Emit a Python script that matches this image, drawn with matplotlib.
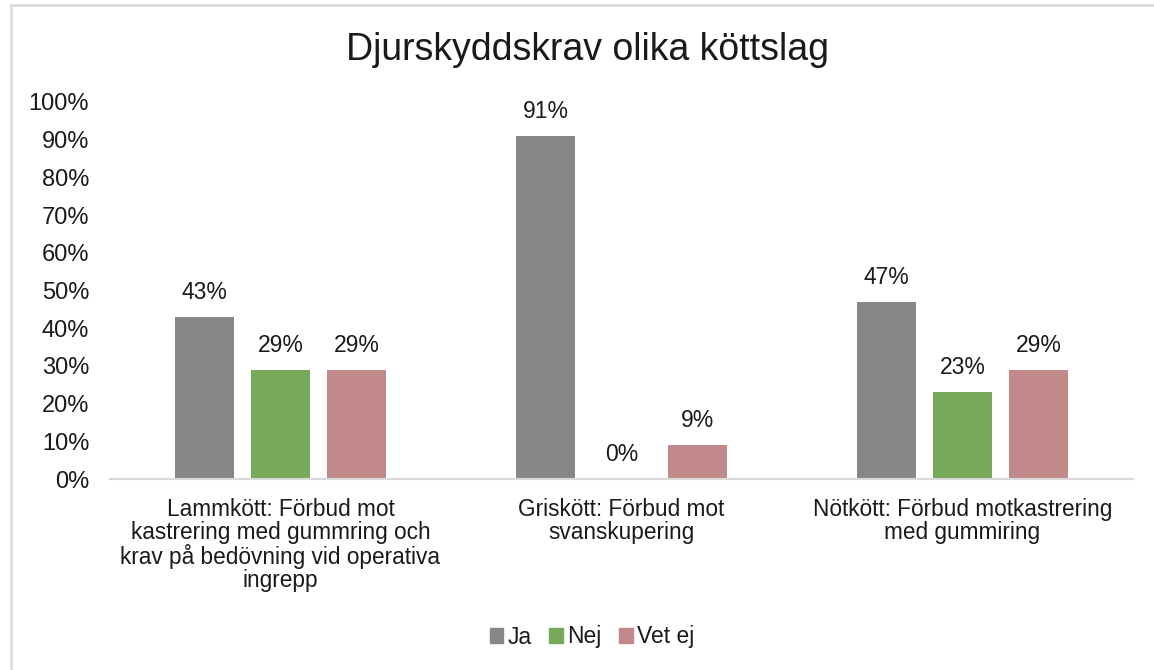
import matplotlib
matplotlib.use("Agg")
import matplotlib.pyplot as plt
import numpy as np
from matplotlib.patches import Patch, Rectangle

# data
categories = [
    "Lammkött: Förbud mot\nkastrering med gummring och\nkrav på bedövning vid operativa\ningrepp",
    "Griskött: Förbud mot\nsvanskupering",
    "Nötkött: Förbud motkastrering\nmed gummiring",
]
series = ["Ja", "Nej", "Vet ej"]
ja = [43, 91, 47]
nej = [29, 0, 23]
vet_ej = [29, 9, 29]
yticks = [0, 10, 20, 30, 40, 50, 60, 70, 80, 90, 100]

colors = ["#878787", "#76A95A", "#C2898A"]
text_col = "#1a1a1a"

plt.rcParams["font.family"] = ["Liberation Sans", "DejaVu Sans"]

fig = plt.figure(figsize=(11.54, 6.70), dpi=100)
ax = fig.add_axes([110 / 1154, 1 - 479 / 670, 1023 / 1154, 377 / 670])

x = np.arange(len(categories))
width = 0.173
step = 0.223
for k, (vals, name, col) in enumerate(zip([ja, nej, vet_ej], series, colors)):
    pos = x + (k - 1) * step
    ax.bar(pos, vals, width, color=col, label=name, zorder=2)
    for p, v in zip(pos, vals):
        ax.text(p, v + 3.4, f"{v}%", ha="center", va="bottom",
                fontsize=16.5, color=text_col)

ax.set_xlim(-0.5, 2.5)
ax.set_ylim(0, 100)
ax.set_yticks(yticks)
ax.set_yticklabels([f"{t}%" for t in yticks], fontsize=17, color=text_col)
ax.set_xticks(x)
ax.set_xticklabels(categories, fontsize=16.3, color=text_col, linespacing=1.0,
                   va="top")
ax.tick_params(axis="both", length=0)
ax.tick_params(axis="x", pad=14)
ax.tick_params(axis="y", pad=15)

for s in ["top", "right", "left"]:
    ax.spines[s].set_visible(False)
ax.spines["bottom"].set_color("#D9D9D9")
ax.spines["bottom"].set_linewidth(1.5)

fig.text(587 / 1154, 1 - 50 / 670, "Djurskyddskrav olika köttslag",
         ha="center", va="center", fontsize=27, color=text_col)

handles = [Patch(color=c, label=n) for c, n in zip(colors, series)]
fig.legend(handles=handles, loc="center", bbox_to_anchor=(592 / 1154, 1 - 637 / 670),
           ncol=3, frameon=False, fontsize=16.5, handlelength=0.6, handleheight=0.6,
           handletextpad=0.2, columnspacing=0.75, labelcolor=text_col)

# outer chart border (cropped at right and bottom)
fig.patches.append(Rectangle((11 / 1154, -0.1), 1.2, 1.1 - 5 / 670,
                             transform=fig.transFigure, fill=False,
                             edgecolor="#D9D9D9", linewidth=1.8))

fig.savefig("out.png", dpi=100)
